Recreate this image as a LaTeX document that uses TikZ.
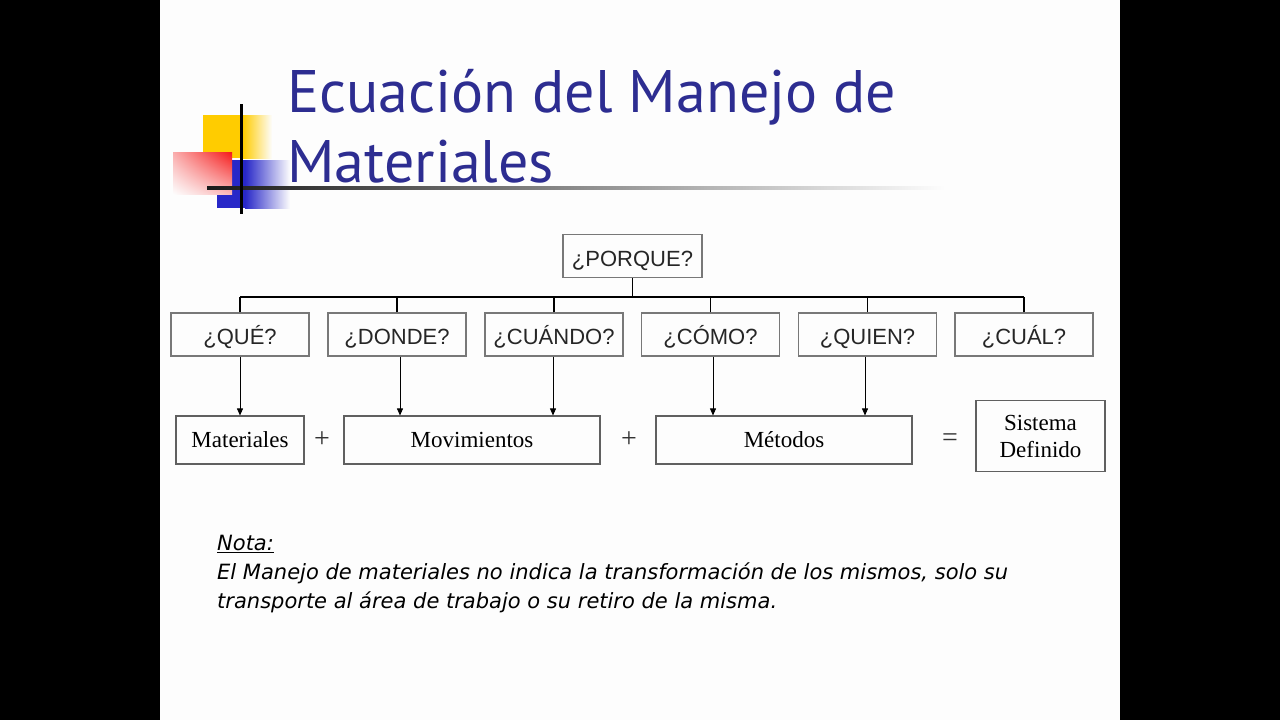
\documentclass[tikz,border=0pt]{standalone}
\usepackage{fontspec}
\setmainfont{Liberation Serif}
\newfontfamily\arialf{Liberation Sans}
\newfontfamily\titlef{PT Sans}
\newfontfamily\notef{DejaVu Sans}
\usetikzlibrary{arrows.meta,shadings}
\definecolor{titleblue}{RGB}{45,45,145}
\definecolor{slidebg}{RGB}{253,253,253}
\definecolor{boxgray}{RGB}{120,120,120}
\definecolor{logoyellow}{RGB}{255,204,0}
\definecolor{logored}{RGB}{245,25,25}
\definecolor{logoblue}{RGB}{40,40,200}
\begin{document}
\begin{tikzpicture}[x=1pt,y=-1pt,
  qbox/.style={draw=boxgray, line width=1.2pt, minimum width=138pt, minimum height=43pt, inner sep=0pt,
    text height=20pt, text depth=0pt,
    font=\arialf\fontsize{22}{26}\selectfont, text=black!85},
  tbox/.style={draw=boxgray!80!black, line width=1.1pt, minimum height=48pt, inner sep=0pt,
    font=\fontsize{23}{27}\selectfont, align=center},
  opsign/.style={font=\fontsize{28}{30}\selectfont, text=black!80, inner sep=0pt},
  bus/.style={draw=black, line width=1.5pt},
  arr/.style={draw=black, line width=0.8pt, -{Triangle[length=7pt,width=6pt]}},
]
\useasboundingbox (0,0) rectangle (1280,720);
\fill[black] (0,0) rectangle (1280,720);
\fill[slidebg] (160,0) rectangle (1120,720);
% logo
\fill[logoyellow] (203,115) rectangle (244,158);
\shade[left color=logoyellow, right color=slidebg] (243,115) rectangle (272,158);
\fill[logoblue] (217,160) rectangle (246,208);
\shade[left color=logoblue, right color=slidebg] (245,160) rectangle (290,208);
\shade[upper right=logored, upper left=logored!35!slidebg, lower right=logored!30!slidebg, lower left=slidebg] (173,152) rectangle (232,194);
\shade[left color=black!90, right color=slidebg] (207,186.5) rectangle (945,189.5);
\fill[black] (239.5,104) rectangle (242.5,214);
% title
\node[anchor=base west, inner sep=0pt, text=titleblue, font=\titlef\fontsize{60}{70}\selectfont] (t1) at (287,112) {Ecuación del Manejo de};
\node[anchor=base west, inner sep=0pt, text=titleblue, font=\titlef\fontsize{60}{70}\selectfont] (t2) at (287,182) {Materiales};
% hierarchy
\node[qbox, minimum width=139pt] (porque) at (632.5,256) {¿PORQUE?};
\node[qbox] (que) at (240,334.5) {¿QUÉ?};
\node[qbox] (donde) at (397,334.5) {¿DONDE?};
\node[qbox] (cuando) at (554,334.5) {¿CUÁNDO?};
\node[qbox] (como) at (710.5,334.5) {¿CÓMO?};
\node[qbox] (quien) at (867.5,334.5) {¿QUIEN?};
\node[qbox] (cual) at (1024,334.5) {¿CUÁL?};
\draw[bus] (porque.south) -- ++(0,19) coordinate (busy);
\draw[bus] (que.north |- busy) -- (cual.north |- busy);
\foreach \n in {que,donde,cuando,como,quien,cual}{
  \draw[bus] (\n.north) -- (\n.north |- busy);
}
% equation
\node[tbox, minimum width=128pt] (mat) at (240,440) {Materiales};
\node[opsign] (plus1) at (322,440) {+};
\node[tbox, minimum width=256pt] (mov) at (472,440) {Movimientos};
\node[opsign] (plus2) at (629,440) {+};
\node[tbox, minimum width=256pt] (met) at (784,440) {Métodos};
\node[opsign] (eq) at (950,440) {=};
\node[tbox, minimum width=129pt, minimum height=71pt, font=\fontsize{23}{27}\selectfont] (sis) at (1040.5,436) {Sistema\\Definido};
\draw[arr] (que.south) -- (mat.north);
\draw[arr] ([xshift=3pt]donde.south) -- ([xshift=3pt]donde.south |- mov.north);
\draw[arr] ([xshift=-1pt]cuando.south) -- ([xshift=-1pt]cuando.south |- mov.north);
\draw[arr] ([xshift=2.5pt]como.south) -- ([xshift=2.5pt]como.south |- met.north);
\draw[arr] ([xshift=-2.5pt]quien.south) -- ([xshift=-2.5pt]quien.south |- met.north);
% note
\node[anchor=base west, inner sep=0pt, align=left, font=\notef\itshape\fontsize{21}{29}\selectfont] (nota) at (217,608)
  {\underline{Nota:}\\El Manejo de materiales no indica la transformación de los mismos, solo su\\transporte al área de trabajo o su retiro de la misma.};
\end{tikzpicture}
\end{document}
